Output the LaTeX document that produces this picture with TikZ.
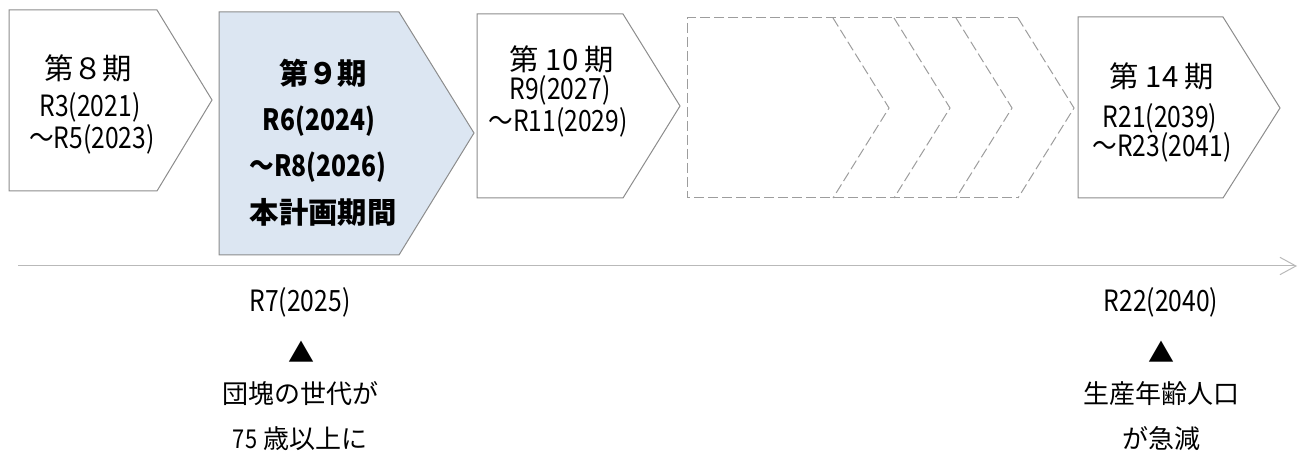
\documentclass[tikz,border=0pt]{standalone}
\usepackage{fontspec}
\setmainfont{Noto Sans CJK JP}
\newfontfamily\numfont[FakeStretch=0.84]{Noto Sans CJK JP}
\usepackage{tikz}
\usepackage{xcolor}
\usetikzlibrary{arrows.meta}
\definecolor{planblue}{HTML}{DCE6F2}
\definecolor{edgegray}{HTML}{8C8C8C}

\begin{document}
\begin{tikzpicture}[x=0.75pt,y=-0.75pt,
    phase/.style={draw=edgegray,line width=0.75pt},
    later/.style={draw=edgegray!85,line width=0.75pt,dash pattern=on 7.5pt off 3pt},
    axis/.style={draw=gray!55,line width=0.75pt,-{Straight Barb[length=12pt,width=13pt]}},
    ttl/.style={inner sep=0,font=\fontsize{22}{26}\selectfont},
    yrs/.style={inner sep=0,font=\numfont\fontsize{22}{26}\selectfont},
    note/.style={inner sep=0,font=\fontsize{19.5}{24}\selectfont}]
    \useasboundingbox (0,0) rectangle (1306,452);

    % periods
    \draw[phase] (9,10) -- (157,10) -- (212,100) -- (157,191) -- (9,191) -- cycle;
    \draw[phase,fill=planblue] (219,12) -- (399,12) -- (474,133) -- (399,255) -- (219,255) -- cycle;
    \draw[phase] (477,14) -- (623,14) -- (680,106) -- (623,198) -- (477,198) -- cycle;
    \draw[phase] (1078,17) -- (1223,17) -- (1280,108) -- (1223,198) -- (1078,198) -- cycle;

    \draw[later] (1018,18) -- (687,18) -- (687,198) -- (1018,198);
    \foreach \x in {833,894,956,1018}
        \draw[later] (\x,18) -- (\x+56,108) -- (\x,198);

    \node[ttl] (p8) at (88,68) {第８期};
    \node[yrs] (p8a) at (90,107) {R3(2021)};
    \node[yrs] (p8b) at (92,139) {～R5(2023)};

    \node[ttl] (p9) at (323,73) {\bfseries 第９期};
    \node[yrs] (p9a) at (319,121) {\bfseries R6(2024)};
    \node[yrs] (p9b) at (318,167) {\bfseries ～R8(2026)};
    \node[ttl] (p9c) at (323,212) {\bfseries 本計画期間};

    \node[ttl] (p10) at (562,59) {第 10 期};
    \node[yrs] (p10a) at (560,90) {R9(2027)};
    \node[yrs] (p10b) at (558,122) {～R11(2029)};

    \node[ttl] (p14) at (1162,76) {第 14 期};
    \node[yrs] (p14a) at (1160,118) {R21(2039)};
    \node[yrs] (p14b) at (1162,147) {～R23(2041)};

    % time axis
    \coordinate (t0) at (18,266);
    \coordinate (t1) at (1297,266);
    \draw[axis] (t0) -- (t1);

    \node[yrs] (y25) at (300,302) {R7(2025)};
    \node[note] (m25) at (301,352) {▲};
    \node[note] (e25a) at (300,394) {団塊の世代が};
    \node[note] (e25b) at (300,439) {{\numfont 75} 歳以上に};

    \node[yrs] (y40) at (1161,302) {R22(2040)};
    \node[note] (m40) at (1161,352) {▲};
    \node[note] (e40a) at (1161,394) {生産年齢人口};
    \node[note] (e40b) at (1161,439) {が急減};
\end{tikzpicture}
\end{document}
